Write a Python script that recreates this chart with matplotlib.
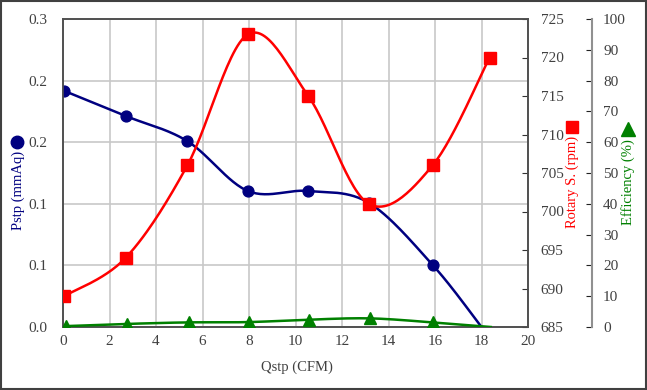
import numpy as np
import matplotlib
matplotlib.use("Agg")
import matplotlib.pyplot as plt
from matplotlib.lines import Line2D
from matplotlib.patches import Rectangle
from matplotlib.ticker import FormatStrFormatter, MultipleLocator

# data
q_pstp = [0.05, 2.7, 5.35, 7.95, 10.55, 13.15, 15.9, 18.0]
pstp = [0.230, 0.2055, 0.181, 0.1325, 0.1325, 0.121, 0.0604, 0.0]

q_rpm = [0.05, 2.7, 5.35, 7.95, 10.55, 13.15, 15.9, 18.35]
rpm = [689.0, 694.0, 706.0, 723.0, 715.0, 701.0, 706.0, 720.0]

q_eff = [0.15, 2.75, 5.4, 8.0, 10.6, 13.2, 15.9, 18.4]
eff = [0.3, 1.0, 1.5, 1.6, 2.4, 2.8, 1.5, 0.0]

NAVY = "#000080"
RED = "#ff0000"
GREEN = "#008000"
TXT = "#404040"

plt.rcParams["font.family"] = ["Liberation Serif", "DejaVu Sans"]
plt.rcParams["font.size"] = 11


def smooth(x, y, xlim, ylim, n=30):
    # excel-like smoothed line, computed in (roughly) pixel space
    sx = 465.0 / (xlim[1] - xlim[0])
    sy = 308.0 / (ylim[1] - ylim[0])
    P = np.column_stack([np.asarray(x) * sx, (np.asarray(y) - ylim[0]) * sy])
    Pext = np.vstack([P[0], P, P[-1]])
    out = []
    t = np.linspace(0, 1, n)[:, None]
    for i in range(len(P) - 1):
        p0, p1, p2, p3 = Pext[i], Pext[i + 1], Pext[i + 2], Pext[i + 3]
        c1 = p1 + (p2 - p0) / 6.0
        c2 = p2 - (p3 - p1) / 6.0
        seg = ((1 - t) ** 3) * p1 + 3 * ((1 - t) ** 2) * t * c1 + 3 * (1 - t) * t ** 2 * c2 + t ** 3 * p2
        out.append(seg if i == 0 else seg[1:])
    out = np.vstack(out)
    return out[:, 0] / sx, out[:, 1] / sy + ylim[0]


fig = plt.figure(figsize=(6.47, 3.90), dpi=100)
ax = fig.add_axes([63 / 647, 1 - 327 / 390, 465 / 647, 308 / 390])
ax2 = ax.twinx()
ax3 = ax.twinx()

xlim = (0, 20)
lim1 = (0, 0.3)
lim2 = (685, 725)
lim3 = (0, 100)

# pressure
xs, ys = smooth(q_pstp, pstp, xlim, lim1)
ax.plot(xs, ys, color=NAVY, lw=1.8, zorder=3)
ax.plot(q_pstp[:-1], pstp[:-1], "o", color=NAVY, ms=7.8, zorder=4)

# rotary speed
xs, ys = smooth(q_rpm, rpm, xlim, lim2)
ax2.plot(xs, ys, color=RED, lw=1.8, zorder=3)
ax2.plot(q_rpm, rpm, "s", color=RED, ms=8, zorder=4)

# efficiency
xs, ys = smooth(q_eff, eff, xlim, lim3)
ax3.plot(xs, ys, color=GREEN, lw=1.8, zorder=3)
ax3.plot(q_eff[:-1], eff[:-1], "^", color=GREEN, ms=8.5, zorder=4)

ax.set_xlim(*xlim)
ax.set_ylim(*lim1)
ax2.set_ylim(*lim2)
ax3.set_ylim(*lim3)

ax.xaxis.set_major_locator(MultipleLocator(2))
ax.yaxis.set_major_locator(MultipleLocator(0.06))
ax.yaxis.set_major_formatter(FormatStrFormatter("%.1f"))
ax2.yaxis.set_major_locator(MultipleLocator(5))
ax3.yaxis.set_major_locator(MultipleLocator(10))

ax.grid(True, color="#c8c8c8", lw=1.2)
ax.set_axisbelow(True)

for a in (ax, ax2):
    for s in a.spines.values():
        s.set_color("#505050")
        s.set_linewidth(1.2)

ax.tick_params(axis="both", direction="in", length=0, colors=TXT, labelsize=11)
ax.tick_params(axis="y", pad=11)
ax.tick_params(axis="x", pad=6)
ax2.tick_params(axis="y", direction="in", length=4, color="#333333", labelcolor=TXT,
                labelsize=11, pad=9)

ax3.spines["right"].set_position(("axes", (592 - 63) / 465))
for k in ("left", "top", "bottom"):
    ax3.spines[k].set_visible(False)
ax3.spines["right"].set_color("#909090")
ax3.spines["right"].set_linewidth(1.5)
ax3.tick_params(axis="y", direction="in", length=4, color="#222222", labelcolor=TXT,
                labelsize=11, pad=8)

# axis titles with marker symbols
fig.text(297 / 647, 1 - 367 / 390, "Qstp (CFM)", ha="center", va="center", fontsize=10.5, color=TXT)
fig.text(18 / 647, 1 - 190 / 390, "Pstp (mmAq)", rotation=90, ha="center", va="center",
         fontsize=10.5, color=NAVY)
fig.text(572 / 647, 1 - 182 / 390, "Rotary S. (rpm)", rotation=90, ha="center", va="center",
         fontsize=10.5, color=RED)
fig.text(628 / 647, 1 - 182 / 390, "Efficiency (%)", rotation=90, ha="center", va="center",
         fontsize=10.5, color=GREEN)
fig.add_artist(Line2D([17 / 647], [1 - 142 / 390], marker="o", color=NAVY, ms=9,
                      transform=fig.transFigure))
fig.add_artist(Line2D([572 / 647], [1 - 127 / 390], marker="s", color=RED, ms=9,
                      transform=fig.transFigure))
fig.add_artist(Line2D([628 / 647], [1 - 129 / 390], marker="^", color=GREEN, ms=9.5,
                      transform=fig.transFigure))

# frame around whole picture
fig.add_artist(Rectangle((0.001, 0.002), 0.997, 0.996, transform=fig.transFigure,
                         fill=False, edgecolor="#404040", lw=1.5))

fig.savefig("out.png", dpi=100)
